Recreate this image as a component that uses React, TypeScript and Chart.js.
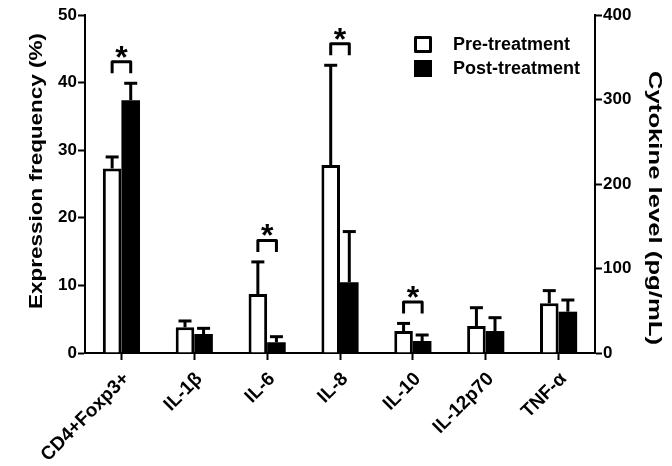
import React, { useEffect, useRef } from "react";
import { Chart, registerables } from "chart.js";

Chart.register(...registerables);

const categories = ["CD4+Foxp3+", "IL-1β", "IL-6", "IL-8", "IL-10", "IL-12p70", "TNF-α"];
// which value axis each category is read against: y = Expression frequency (%), y1 = Cytokine level (pg/mL)
const valueAxis = ["y", "y1", "y1", "y1", "y1", "y1", "y1"];
const preTreatment = [27.3, 30.4, 69.8, 222.5, 26, 32, 58.8];
const preTreatmentSD = [1.7, 7.5, 38, 118, 9, 21.6, 15];
const postTreatment = [37.4, 22.5, 12.7, 83.7, 14.2, 26, 48.9];
const postTreatmentSD = [2.5, 6.7, 6.6, 60, 7.1, 15.8, 13.8];
const significant = [true, false, true, true, true, false, false];
const leftTicks = [0, 10, 20, 30, 40, 50];
const rightTicks = [0, 100, 200, 300, 400];
const legendLabels = ["Pre-treatment", "Post-treatment"];
const leftTitle = "Expression frequency (%)";
const rightTitle = "Cytokine level (pg/mL)";

const FONT = "'Liberation Sans', Arial, Helvetica, sans-serif";

const pick = (arr: number[], axis: string) =>
  arr.map((v, i) => (valueAxis[i] === axis ? v : null));

const overlayPlugin = {
  id: "overlay",
  afterDatasetsDraw(chart: any) {
    const ctx = chart.ctx as CanvasRenderingContext2D;
    ctx.save();
    const info: any[] = categories.map(() => ({}));
    chart.data.datasets.forEach((ds: any, di: number) => {
      const meta = chart.getDatasetMeta(di);
      const scale = chart.scales[ds.yAxisID];
      meta.data.forEach((bar: any, i: number) => {
        const v = ds.data[i];
        if (v === null || v === undefined) return;
        const sd = ds.sd[i];
        const yTop = scale.getPixelForValue(v + sd);
        const x = bar.x;
        const y = bar.y;
        ctx.strokeStyle = "#000";
        ctx.lineWidth = 3;
        ctx.lineCap = "butt";
        ctx.beginPath();
        ctx.moveTo(x, y);
        ctx.lineTo(x, yTop);
        ctx.stroke();
        ctx.beginPath();
        ctx.moveTo(x - 6.5, yTop);
        ctx.lineTo(x + 6.5, yTop);
        ctx.stroke();
        info[i][ds.stack] = { x, yTop };
      });
    });
    // significance brackets
    significant.forEach((sig, i) => {
      if (!sig) return;
      const a = info[i].pre;
      const b = info[i].post;
      if (!a || !b) return;
      const legBottom = Math.min(a.yTop, b.yTop) - 10;
      const top = legBottom - 11.5;
      ctx.strokeStyle = "#000";
      ctx.lineWidth = 3;
      ctx.lineJoin = "round";
      ctx.beginPath();
      ctx.moveTo(a.x, legBottom);
      ctx.lineTo(a.x, top);
      ctx.lineTo(b.x, top);
      ctx.lineTo(b.x, legBottom);
      ctx.stroke();
      ctx.fillStyle = "#000";
      ctx.font = `bold 32px ${FONT}`;
      ctx.textAlign = "center";
      ctx.textBaseline = "alphabetic";
      ctx.fillText("*", (a.x + b.x) / 2, top + 6);
    });
    // legend
    ctx.lineWidth = 3;
    ctx.strokeStyle = "#000";
    ctx.fillStyle = "#fff";
    ctx.fillRect(415.5, 37.5, 15, 14);
    ctx.strokeRect(415.5, 37.5, 15, 14);
    ctx.fillStyle = "#000";
    ctx.fillRect(414, 60, 18, 17);
    ctx.font = `bold 18px ${FONT}`;
    ctx.textAlign = "left";
    ctx.textBaseline = "middle";
    ctx.fillText(legendLabels[0], 453, 45);
    ctx.fillText(legendLabels[1], 453, 69);
    // axis titles
    const drawTitle = (text: string, cx: number, cy: number, rot: number, target: number) => {
      ctx.save();
      ctx.font = `bold 18px ${FONT}`;
      const w = ctx.measureText(text).width;
      ctx.translate(cx, cy);
      ctx.rotate(rot);
      ctx.scale(target / w, 1);
      ctx.textAlign = "center";
      ctx.textBaseline = "middle";
      ctx.fillStyle = "#000";
      ctx.fillText(text, 0, 0);
      ctx.restore();
    };
    drawTitle(leftTitle, 37, 171, -Math.PI / 2, 276);
    drawTitle(rightTitle, 654, 208, Math.PI / 2, 274);
    ctx.restore();
  },
};

export default function App() {
  const ref = useRef<HTMLCanvasElement | null>(null);
  useEffect(() => {
    if (!ref.current) return;
    const tickFont = { family: FONT, size: 17, weight: "bold" as const };
    const common = {
      backgroundColor: "#ffffff",
      borderColor: "#000000",
      borderSkipped: "start",
    };
    const chart = new Chart(ref.current, {
      type: "bar",
      data: {
        labels: categories,
        datasets: [
          { ...common, label: legendLabels[0], data: pick(preTreatment, "y"), sd: pick(preTreatmentSD, "y"), yAxisID: "y", stack: "pre", borderWidth: 3 },
          { ...common, label: legendLabels[0], data: pick(preTreatment, "y1"), sd: pick(preTreatmentSD, "y1"), yAxisID: "y1", stack: "pre", borderWidth: 3 },
          { ...common, label: legendLabels[1], data: pick(postTreatment, "y"), sd: pick(postTreatmentSD, "y"), yAxisID: "y", stack: "post", backgroundColor: "#000000", borderWidth: 0 },
          { ...common, label: legendLabels[1], data: pick(postTreatment, "y1"), sd: pick(postTreatmentSD, "y1"), yAxisID: "y1", stack: "post", backgroundColor: "#000000", borderWidth: 0 },
        ] as any,
      },
      options: {
        animation: false,
        responsive: false,
        maintainAspectRatio: false,
        categoryPercentage: 0.51,
        barPercentage: 1,
        layout: { padding: { top: 15, left: 0, right: 0, bottom: 0 } },
        plugins: { legend: { display: false }, tooltip: { enabled: false } },
        scales: {
          x: {
            type: "category",
            offset: true,
            grid: { display: true, drawOnChartArea: false, drawTicks: true, tickLength: 7, tickWidth: 2, tickColor: "#000", color: "#000", offset: false },
            border: { display: true, color: "#000", width: 2 },
            ticks: { color: "#000", font: { family: FONT, size: 19, weight: "bold" }, minRotation: 45, maxRotation: 45, padding: 8, labelOffset: 5, autoSkip: false },
            afterFit: (s: any) => { s.height = 113; },
          },
          y: {
            type: "linear",
            position: "left",
            min: 0,
            max: 50,
            afterBuildTicks: (s: any) => { s.ticks = leftTicks.map((v) => ({ value: v })); },
            grid: { display: true, drawOnChartArea: false, drawTicks: true, tickLength: 7, tickWidth: 2, tickColor: "#000", color: "#000" },
            border: { display: true, color: "#000", width: 2 },
            ticks: { color: "#000", font: tickFont, padding: 1 },
            afterFit: (s: any) => { s.width = 85; },
          },
          y1: {
            type: "linear",
            position: "right",
            min: 0,
            max: 400,
            afterBuildTicks: (s: any) => { s.ticks = rightTicks.map((v) => ({ value: v })); },
            grid: { display: true, drawOnChartArea: false, drawTicks: true, tickLength: 7, tickWidth: 2, tickColor: "#000", color: "#000" },
            border: { display: true, color: "#000", width: 2 },
            ticks: { color: "#000", font: tickFont, padding: 1 },
            afterFit: (s: any) => { s.width = 77; },
          },
        },
      } as any,
      plugins: [overlayPlugin],
    });
    return () => chart.destroy();
  }, []);
  return (
    <div style={{ position: "absolute", left: 0, top: 0, width: 672, height: 466, background: "#fff" }}>
      <canvas ref={ref} width={672} height={466} style={{ display: "block", width: 672, height: 466 }} />
    </div>
  );
}
